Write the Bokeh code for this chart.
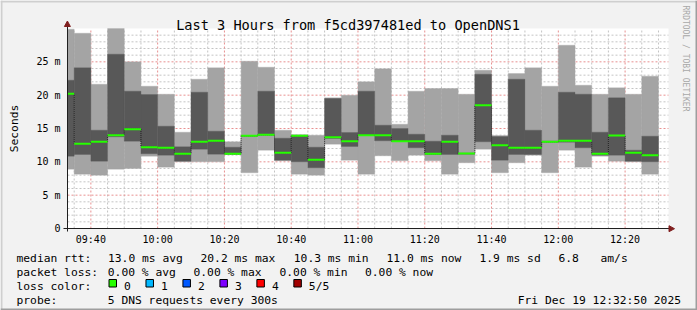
import numpy as np
from bokeh.plotting import figure
from bokeh.models import (Label, FixedTicker, BoxAnnotation, PolyAnnotation, LinearAxis,
                          ColumnDataSource, Range1d)
from bokeh.embed import file_html
from bokeh.resources import INLINE

# ---------------- data ----------------
title_text = "Last 3 Hours from f5cd397481ed to OpenDNS1"
bar_start = ["09:30", "09:35", "09:40", "09:45", "09:50", "09:55",
             "10:00", "10:05", "10:10", "10:15", "10:20", "10:25",
             "10:30", "10:35", "10:40", "10:45", "10:50", "10:55",
             "11:00", "11:05", "11:10", "11:15", "11:20", "11:25",
             "11:30", "11:35", "11:40", "11:45", "11:50", "11:55",
             "12:00", "12:05", "12:10", "12:15", "12:20", "12:25"]
# five sorted DNS round-trip times per interval (ms)
ping_min = [8.9, 8.15, 8.0, 8.9, 9.0, 10.85, 9.2, 10.0, 10.0, 10.0, 11.1, 8.35,
            11.75, 10.15, 8.15, 8.0, 12.65, 10.25, 8.15, 10.9, 10.15, 11.0, 10.15, 8.15,
            9.85, 11.9, 8.35, 9.85, 11.0, 8.35, 11.75, 9.2, 10.85, 10.1, 10.0, 8.15]
ping_lo = [10.85, 11.1, 10.1, 13.75, 13.1, 11.2, 11.0, 10.1, 11.9, 11.15, 11.15, 13.85,
           14.0, 10.25, 10.0, 9.1, 13.5, 12.3, 13.95, 13.15, 13.05, 12.1, 11.1, 11.1,
           11.15, 13.0, 10.25, 11.1, 11.1, 12.95, 12.95, 12.1, 11.0, 11.0, 10.1, 10.0]
ping_median = [20.2, 12.7, 13.0, 14.0, 14.9, 12.2, 12.1, 11.2, 13.0, 13.15, 11.2, 13.9,
               14.05, 11.35, 13.9, 10.3, 13.7, 13.1, 14.0, 14.0, 13.1, 13.1, 11.2, 13.0,
               11.25, 18.5, 12.5, 12.1, 12.1, 13.0, 13.15, 13.15, 11.2, 13.95, 11.35, 11.0]
ping_hi = [22.25, 24.1, 14.75, 26.15, 20.6, 20.1, 15.35, 12.25, 20.45, 14.6, 12.2, 13.95,
           20.6, 13.55, 14.0, 12.2, 19.5, 14.4, 20.6, 15.5, 15.0, 14.15, 13.1, 14.0,
           11.3, 23.15, 13.8, 22.4, 14.75, 13.1, 20.45, 20.15, 14.45, 19.6, 11.75, 13.85]
ping_max = [29.9, 29.3, 21.65, 30.6, 25.0, 21.35, 20.15, 14.45, 22.4, 24.1, 13.0, 25.1,
            24.2, 14.75, 14.05, 14.0, 19.6, 20.0, 22.0, 23.95, 15.65, 20.6, 21.0, 21.0,
            20.15, 23.75, 13.95, 23.25, 24.1, 21.35, 27.5, 21.5, 20.15, 21.1, 20.15, 22.85]
step_minutes = 5
view_start, view_end = "09:33", "12:33"
x_tick_labels = ["09:40", "10:00", "10:20", "10:40", "11:00", "11:20", "11:40", "12:00", "12:20"]
y_tick_values = [0, 5, 10, 15, 20, 25]
y_tick_labels = ["0", "5 m", "10 m", "15 m", "20 m", "25 m"]
y_top = 30

legend_row1 = ["median rtt:", "13.0 ms avg", "20.2 ms max", "10.3 ms min", "11.0 ms now",
               "1.9 ms sd", "6.8", "am/s"]
legend_row2 = ["packet loss:", "0.00 % avg", "0.00 % max", "0.00 % min", "0.00 % now"]
loss_labels = ["0", "1", "2", "3", "4", "5/5"]
loss_colors = ["#26ff00", "#00b8ff", "#0059ff", "#7e00ff", "#ff0000", "#a10000"]
probe_text = "5 DNS requests every 300s"
stamp_text = "Fri Dec 19 12:32:50 2025"
watermark = "RRDTOOL / TOBI OETIKER"


def to_min(s):
    h, m = s.split(":")
    return int(h) * 60 + int(m)


# ---------------- geometry: canvas area inside the image ----------------
W, H = 697, 310
CL, CT, CW, CH = 67, 28, 601, 200          # chart canvas (px)
MONO = "DejaVu Sans Mono"
t0, t1 = to_min(view_start), to_min(view_end)
ppm = CW / (t1 - t0)                        # px per minute
ppv = CH / y_top                            # px per ms


def tx(px):   # canvas px -> minutes
    return t0 + (px - CL) / ppm


def vy(py):   # canvas px -> ms
    return (CT + CH - py) / ppv


p = figure(width=W, height=H, title=None,
           x_range=Range1d(tx(0), tx(W)), y_range=Range1d(vy(H), vy(0)),
           x_axis_location=None, y_axis_location=None,
           output_backend="svg", toolbar_location=None,
           min_border=0, min_border_left=0, min_border_right=0,
           min_border_top=0, min_border_bottom=0)
p.border_fill_color = "#f2f2f2"
p.background_fill_color = "#f2f2f2"
p.outline_line_color = None
p.grid.visible = False

# white chart canvas
p.add_layout(BoxAnnotation(left=t0, right=t1, bottom=0, top=y_top, fill_color="#ffffff",
                           fill_alpha=1.0, line_color=None, level="image"))

# grid
x_major = [to_min(t) for t in x_tick_labels]
x_minor = [v for v in range((t0 // 5 + 1) * 5, t1 + 1, 5) if v not in x_major]
y_minor = [v for v in range(1, y_top) if v not in y_tick_values]
y_major = [v for v in y_tick_values if v > 0]
p.segment(x0=x_minor, x1=x_minor, y0=[0] * len(x_minor), y1=[y_top] * len(x_minor),
          line_color="#c4c4c4", line_dash="2 2", line_width=1, level="underlay")
p.segment(x0=[t0] * len(y_minor), x1=[t1] * len(y_minor), y0=y_minor, y1=y_minor,
          line_color="#c4c4c4", line_dash="2 2", line_width=1, level="underlay")
p.segment(x0=x_major, x1=x_major, y0=[0] * len(x_major), y1=[y_top] * len(x_major),
          line_color="#e89090", line_dash="2 2", line_width=1, level="underlay")
p.segment(x0=[t0] * len(y_major), x1=[t1] * len(y_major), y0=y_major, y1=y_major,
          line_color="#e89090", line_dash="2 2", line_width=1, level="underlay")

# smoke bars + median
starts = np.array([to_min(t) for t in bar_start], dtype=float)
med = np.array(ping_median)
band = 0.15
left = np.maximum(starts, t0)
src = ColumnDataSource(dict(left=left, right=starts + step_minutes,
                            pmin=ping_min, pmax=np.minimum(ping_max, y_top), plo=ping_lo, phi=ping_hi,
                            mlo=med - band, mhi=med + band))
p.quad(left="left", right="right", bottom="pmin", top="pmax", source=src,
       fill_color="#a4a4a4", line_color="#a4a4a4", line_width=0.3)
p.quad(left="left", right="right", bottom="plo", top="phi", source=src,
       fill_color="#585858", line_color="#585858", line_width=0.3)
p.step(x=[t0] + list(starts[1:]) + [starts[-1] + step_minutes], y=list(med) + [med[-1]], mode="after",
       line_color="#202020", line_width=1, line_dash="1 1")
p.quad(left="left", right="right", bottom="mlo", top="mhi", source=src,
       fill_color="#26ff00", line_color=None)

# axes drawn at the canvas edges
xaxis = LinearAxis(fixed_location=0, bounds=(tx(63), tx(668.5)),
                   ticker=FixedTicker(ticks=x_major, minor_ticks=[]))
yaxis = LinearAxis(fixed_location=t0, bounds=(vy(231), vy(25.5)),
                   ticker=FixedTicker(ticks=y_tick_values, minor_ticks=[]))
xaxis.major_label_overrides = {v: l for v, l in zip(x_major, x_tick_labels)}
yaxis.major_label_overrides = {v: l for v, l in zip(y_tick_values, y_tick_labels)}
for ax in (xaxis, yaxis):
    ax.axis_line_color = "#1f1f1f"
    ax.major_tick_out = 0
    ax.major_tick_in = 0
    ax.minor_tick_out = 0
    ax.minor_tick_in = 0
    ax.major_label_text_font = MONO
    ax.major_label_text_font_size = "10px"
    ax.major_label_text_color = "#000000"
xaxis.major_label_standoff = 5
yaxis.major_label_standoff = 7
p.add_layout(xaxis, "below")
p.add_layout(yaxis, "left")


# ---------------- texts & decorations (image px, screen units) ----------------
def text(t, cx, cy, size="11.3px", align="left", baseline="alphabetic", color="#000000", angle=0.0):
    p.add_layout(Label(x=cx, y=H - cy, x_units="screen", y_units="screen", text=t,
                       text_font=MONO, text_font_size=size, text_align=align,
                       text_baseline=baseline, text_color=color, angle=angle))


def box(x0, y0, x1, y1, fill, line=None):
    p.add_layout(BoxAnnotation(left=x0, right=x1, top=H - y0, bottom=H - y1,
                               left_units="screen", right_units="screen",
                               top_units="screen", bottom_units="screen",
                               fill_color=fill, fill_alpha=1.0,
                               line_color=line, line_alpha=1.0, line_width=1 if line else 0))


def poly(xs, ys, color):
    p.add_layout(PolyAnnotation(xs=list(xs), ys=[H - v for v in ys],
                                xs_units="screen", ys_units="screen",
                                fill_color=color, fill_alpha=1.0, line_color=color, line_alpha=1.0))


text(title_text, 347.5, 24, size="13.6px", align="center")
text("Seconds", 14, 128, size="11.3px", align="center", angle=np.pi / 2)
text(watermark, 685, 5, size="8px", align="left", color="#a8a8a8", angle=-np.pi / 2)

# arrows
poly([66.9, 63.9, 69.9], [20.5, 26, 26], "#801f1f")
poly([674, 668.5, 668.5], [228.2, 225.2, 231.2], "#801f1f")

row_y = [257.7, 271.7, 285.7, 299.5]
row1_x = [16, 107.5, 200, 293.3, 386, 479, 558, 600]
row2_x = [16, 107.3, 193, 279, 364.5]
for t, x in zip(legend_row1, row1_x):
    text(t, x, row_y[0])
for t, x in zip(legend_row2, row2_x):
    text(t, x, row_y[1])
text("loss color:", 16, row_y[2])
for i, (lab, col) in enumerate(zip(loss_labels, loss_colors)):
    bx = 108.5 + 36.97 * i
    box(bx, 279, bx + 7.5, 286.5, col, "#000000")
    text(lab, bx + 15, row_y[2])
text("probe:", 16, row_y[3])
text(probe_text, 107.3, row_y[3])
text(stamp_text, 680.5, row_y[3], align="right")

# image frame shading
box(0, 0, 697, 2, "#cfcfcf")
box(0, 0, 2, 310, "#cfcfcf")
box(0, 308, 697, 310, "#9e9e9e")
box(695, 0, 697, 310, "#9e9e9e")

open("out.html", "w").write(file_html(p, INLINE))
